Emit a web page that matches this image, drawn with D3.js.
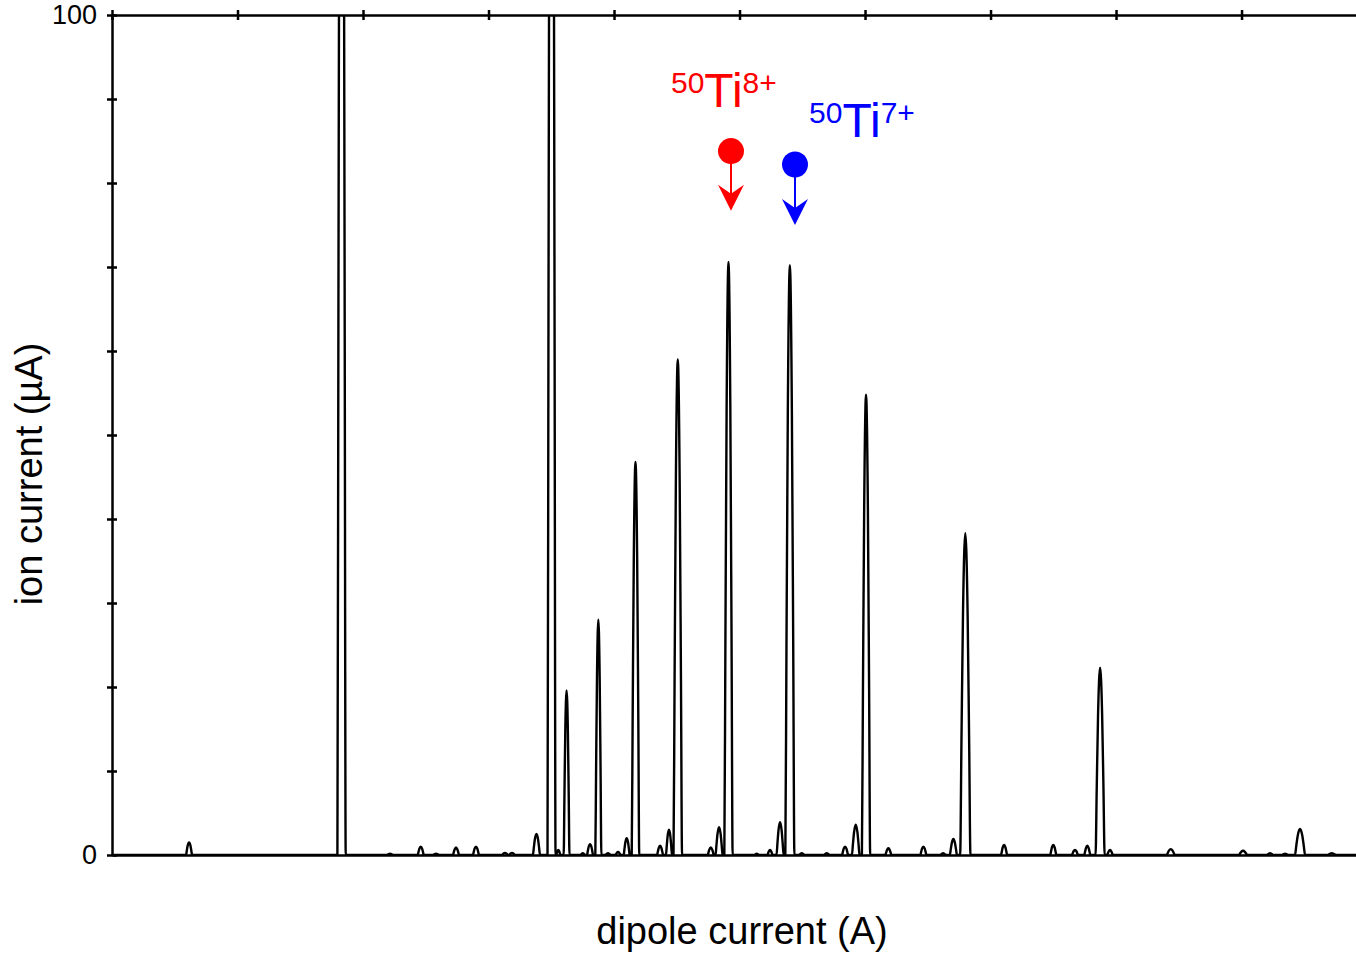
<!DOCTYPE html>
<html lang="en">
<head>
<meta charset="UTF-8">
<title>Ion current vs dipole current</title>
<style>
    body { margin: 0; background: #fff; }
    text { font-family: "Liberation Sans", Arial, Helvetica, sans-serif; }
</style>
</head>
<body>
<script src="https://d3js.org/d3.v7.min.js"></script>
<script>

    // peaks: centre (dipole current, arb. units), height (uA), half width at base
    const peakPos = [6.14, 18.29, 22.15, 24.60, 25.82, 27.41, 29.00, 31.31, 31.87, 33.82,
        35.02, 35.56, 36.22, 37.51, 38.09, 38.75, 39.52, 40.32, 41.01, 41.71,
        43.67, 44.38, 45.08, 47.71, 48.37, 49.12, 51.37, 52.43, 53.23, 54.01,
        54.96, 56.95, 58.41, 59.26, 60.08, 61.86, 64.65, 66.22, 67.04, 67.99,
        71.08, 75.00, 76.73, 77.71, 78.73, 79.52, 84.36, 90.12, 92.27, 93.47,
        94.66, 97.19];
    const peakHeight = [1.5, 190, 0.15, 1.0, 0.15, 0.9, 1.0, 0.25, 0.25, 2.5,
        190, 0.6, 19.6, 0.2, 1.3, 28.0, 0.2, 0.35, 2.0, 46.8,
        1.1, 3.0, 59.0, 0.9, 3.3, 70.6, 0.15, 0.6, 3.9, 70.2,
        0.2, 0.2, 1.0, 3.6, 54.8, 0.8, 1.0, 0.2, 1.9, 38.3,
        1.2, 1.2, 0.6, 1.1, 22.3, 0.6, 0.7, 0.5, 0.2, 0.15,
        3.1, 0.2];
    const peakWidth = [0.24, 0.33, 0.24, 0.24, 0.24, 0.24, 0.24, 0.24, 0.24, 0.28,
        0.32, 0.16, 0.23, 0.16, 0.24, 0.24, 0.2, 0.2, 0.24, 0.30,
        0.24, 0.24, 0.34, 0.24, 0.28, 0.33, 0.16, 0.2, 0.28, 0.36,
        0.2, 0.2, 0.24, 0.30, 0.33, 0.24, 0.24, 0.2, 0.28, 0.41,
        0.24, 0.24, 0.24, 0.24, 0.36, 0.22, 0.32, 0.32, 0.24, 0.24,
        0.40, 0.32];

    const yTicks = [0, 10, 20, 30, 40, 50, 60, 70, 80, 90, 100];
    const yLabels = [0, 100];
    const xTicks = [0, 10, 20, 30, 40, 50, 60, 70, 80, 90];

    // charge state markers
    const annMass = ['50', '50'];
    const annElement = ['Ti', 'Ti'];
    const annCharge = ['8+', '7+'];
    const annColor = ['#ff0000', '#0000ff'];
    const annX = [49.32, 54.42];       // marker position
    const annDot = [83.8, 82.2];       // dot height (uA)
    const annTip = [76.7, 75.0];       // arrow tip (uA)
    const annTextX = [44.54, 55.54];   // label start
    const annTextY = [89.05, 85.48];   // label baseline

    const width = 1356, height = 954;
    const margin = { top: 15, right: 0, bottom: 99, left: 112 };

    const svg = d3.select('body').append('svg')
        .attr('width', width)
        .attr('height', height);

    const x = d3.scaleLinear()
        .domain([0, 99.12])
        .range([margin.left, width - margin.right]);

    const y = d3.scaleLinear()
        .domain([0, 100])
        .range([height - margin.bottom, margin.top]);

    // clip for off-scale peaks
    svg.append('clipPath').attr('id', 'plot')
        .append('rect')
        .attr('x', x(0)).attr('y', y(100))
        .attr('width', x(99.12) - x(0)).attr('height', y(0) - y(100));

    // build the trace: flat baseline between peaks, narrow pointed profile per peak
    const profile = [[-1, 0], [-0.75, 0.35], [-0.45, 0.75], [0, 1], [0.45, 0.75], [0.75, 0.35], [1, 0]];
    let trace = [[0, 0]];
    peakPos.forEach((c, i) => {
        profile.forEach(p => trace.push([c + p[0] * peakWidth[i], p[1] * peakHeight[i]]));
    });
    trace.push([99.12, 0]);

    const line = d3.line()
        .x(d => x(d[0]))
        .y(d => y(d[1]))
        .curve(d3.curveMonotoneX);

    svg.append('path')
        .datum(trace)
        .attr('clip-path', 'url(#plot)')
        .attr('fill', 'none')
        .attr('stroke', '#000')
        .attr('stroke-width', 2.4)
        .attr('stroke-linejoin', 'round')
        .attr('d', line);

    // axes
    const yAxis = svg.append('g')
        .attr('transform', `translate(${x(0)},0)`)
        .call(d3.axisLeft(y)
            .tickValues(yTicks)
            .tickSizeInner(5)
            .tickSizeOuter(0)
            .tickPadding(10)
            .tickFormat(d => yLabels.includes(d) ? d : ''));

    yAxis.selectAll('.tick line').attr('x1', 5).attr('x2', -5);

    const topAxis = svg.append('g')
        .attr('transform', `translate(0,${y(100)})`)
        .call(d3.axisTop(x)
            .tickValues(xTicks)
            .tickSizeOuter(0)
            .tickFormat(''));

    topAxis.selectAll('.tick line').attr('y1', 5).attr('y2', -5);

    svg.append('g')
        .attr('transform', `translate(0,${y(0)})`)
        .call(d3.axisBottom(x).tickValues([]).tickSizeOuter(0));

    svg.selectAll('.domain, .tick line')
        .attr('stroke', '#000')
        .attr('stroke-width', 2.5);

    svg.selectAll('.tick text')
        .attr('font-size', 27)
        .attr('fill', '#000');

    // titles
    svg.append('text')
        .attr('x', 742)
        .attr('y', 944)
        .attr('text-anchor', 'middle')
        .attr('font-size', 38)
        .text('dipole current (A)');

    svg.append('text')
        .attr('transform', 'translate(42,474) rotate(-90)')
        .attr('text-anchor', 'middle')
        .attr('font-size', 38)
        .text('ion current (\u00b5A)');

    // markers
    annX.forEach((ax, i) => {
        const g = svg.append('g');
        const cx = x(ax), tip = y(annTip[i]);

        g.append('line')
            .attr('x1', cx).attr('x2', cx)
            .attr('y1', y(annDot[i])).attr('y2', tip - 10)
            .attr('stroke', annColor[i])
            .attr('stroke-width', 2);

        g.append('path')
            .attr('d', `M${cx},${tip} L${cx - 13},${tip - 26} L${cx},${tip - 17} L${cx + 13},${tip - 26} Z`)
            .attr('fill', annColor[i]);

        g.append('circle')
            .attr('cx', cx).attr('cy', y(annDot[i]))
            .attr('r', 13)
            .attr('fill', annColor[i]);

        const t = g.append('text')
            .attr('x', x(annTextX[i]))
            .attr('y', y(annTextY[i]))
            .attr('fill', annColor[i]);
        t.append('tspan').attr('font-size', 30).attr('dy', -14).text(annMass[i]);
        t.append('tspan').attr('font-size', 48).attr('dy', 14).text(annElement[i]);
        t.append('tspan').attr('font-size', 30).attr('dy', -14).text(annCharge[i]);
    });

</script>
</body>
</html>
